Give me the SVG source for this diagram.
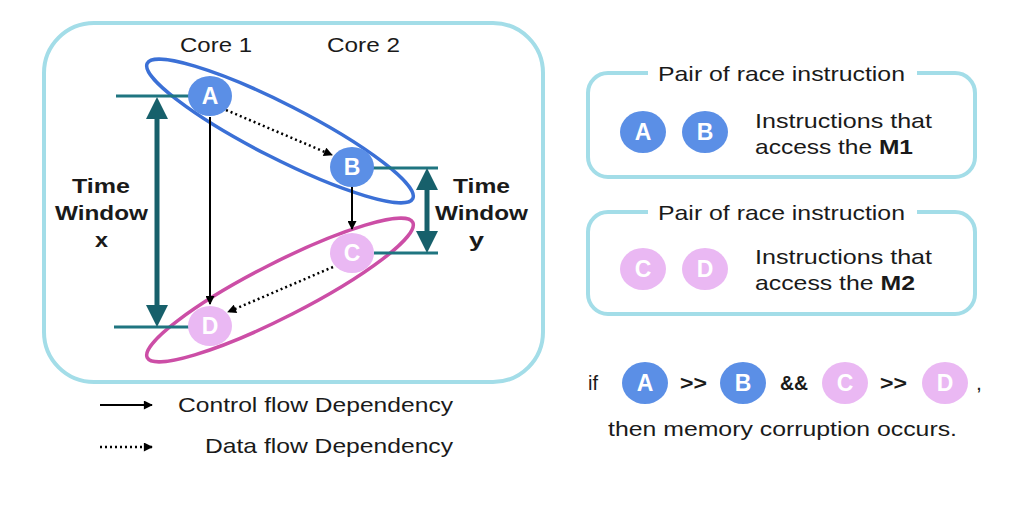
<svg xmlns="http://www.w3.org/2000/svg" width="1026" height="510" viewBox="0 0 1026 510">
<defs>
<style>
.t{font-family:"Liberation Sans",Arial,sans-serif;font-size:21px;fill:#1a1a1a}
.b{font-weight:bold}
.nl{font-family:"Liberation Sans",Arial,sans-serif;font-size:23px;font-weight:bold;fill:#ffffff;text-anchor:middle}
.frame{fill:none;stroke:#a3dde8;stroke-width:4}
.nb{fill:#5b8fe6}
.np{fill:#eab8f3}
.tw{stroke:#1f7580;stroke-width:3;fill:none}
.twa{stroke:#17606b;stroke-width:5;fill:none}
.dep{stroke:#000;stroke-width:2;fill:none}
.dot{stroke:#000;stroke-width:2.5;fill:none;stroke-dasharray:2 3}
</style>
<marker id="ah" viewBox="0 0 10 10" refX="9" refY="5" markerWidth="10" markerHeight="9" markerUnits="userSpaceOnUse" orient="auto"><path d="M0,0 L10,5 L0,10 z" fill="#000"/></marker>
<marker id="tah" viewBox="0 0 10 10" refX="7.3" refY="5" markerWidth="22" markerHeight="22" markerUnits="userSpaceOnUse" orient="auto"><path d="M0,0 L10,5 L0,10 z" fill="#17606b"/></marker>
<marker id="tas" viewBox="0 0 10 10" refX="2.7" refY="5" markerWidth="22" markerHeight="22" markerUnits="userSpaceOnUse" orient="auto"><path d="M10,0 L0,5 L10,10 z" fill="#17606b"/></marker>
</defs>
<rect width="1026" height="510" fill="#ffffff"/>

<g id="main-frame">
<rect class="frame" x="44" y="23" width="499" height="359" rx="50"/>
<text class="t" x="180" y="52" textLength="72" lengthAdjust="spacingAndGlyphs">Core 1</text>
<text class="t" x="327" y="52" textLength="73" lengthAdjust="spacingAndGlyphs">Core 2</text>
</g>

<g id="pair-m1-ellipse"><ellipse cx="280" cy="131" rx="149" ry="27" transform="rotate(27 280 131)" fill="none" stroke="#3b70d6" stroke-width="3.5"/></g>
<g id="pair-m2-ellipse"><ellipse cx="280" cy="290" rx="149" ry="27" transform="rotate(-27 280 290)" fill="none" stroke="#cc4ea6" stroke-width="3.5"/></g>

<g id="time-window-x">
<line class="tw" x1="116" y1="96" x2="190" y2="96"/>
<line class="tw" x1="114" y1="327" x2="190" y2="327"/>
<line class="twa" x1="157" y1="103" x2="157" y2="321" marker-start="url(#tas)" marker-end="url(#tah)"/>
<text class="t b" x="72" y="193" textLength="58" lengthAdjust="spacingAndGlyphs">Time</text>
<text class="t b" x="55" y="220" textLength="93" lengthAdjust="spacingAndGlyphs">Window</text>
<text class="t b" x="95" y="247" textLength="13" lengthAdjust="spacingAndGlyphs">x</text>
</g>

<g id="time-window-y">
<line class="tw" x1="372" y1="168" x2="438" y2="168"/>
<line class="tw" x1="374" y1="253" x2="438" y2="253"/>
<line class="twa" x1="427" y1="174" x2="427" y2="247" marker-start="url(#tas)" marker-end="url(#tah)"/>
<text class="t b" x="453" y="193" textLength="57" lengthAdjust="spacingAndGlyphs">Time</text>
<text class="t b" x="435" y="220" textLength="93" lengthAdjust="spacingAndGlyphs">Window</text>
<text class="t b" x="469" y="247" textLength="15" lengthAdjust="spacingAndGlyphs">y</text>
</g>

<g id="connectors">
<line class="dep" x1="210" y1="117" x2="210" y2="304" marker-end="url(#ah)"/>
<line class="dep" x1="352" y1="187" x2="352" y2="229" marker-end="url(#ah)"/>
<line class="dot" x1="226" y1="110" x2="332" y2="155" marker-end="url(#ah)"/>
<line class="dot" x1="333" y1="267" x2="228" y2="312" marker-end="url(#ah)"/>
</g>

<g id="node-A"><ellipse class="nb" cx="210" cy="96" rx="22" ry="20"/><text class="nl" x="210" y="104">A</text></g>
<g id="node-B"><ellipse class="nb" cx="352" cy="167" rx="22" ry="20"/><text class="nl" x="352" y="175">B</text></g>
<g id="node-C"><ellipse class="np" cx="352" cy="253" rx="22" ry="20"/><text class="nl" x="352" y="261">C</text></g>
<g id="node-D"><ellipse class="np" cx="210" cy="326" rx="22" ry="20"/><text class="nl" x="210" y="334">D</text></g>

<g id="legend">
<line class="dep" x1="100" y1="405" x2="152" y2="405" marker-end="url(#ah)"/>
<text class="t" x="178" y="412" textLength="275" lengthAdjust="spacingAndGlyphs">Control flow Dependency</text>
<line class="dot" x1="100" y1="447" x2="152" y2="447" marker-end="url(#ah)"/>
<text class="t" x="205" y="453" textLength="248" lengthAdjust="spacingAndGlyphs">Data flow Dependency</text>
</g>

<g id="box-m1">
<path class="frame" d="M917,73 H955 A20,20 0 0 1 975,93 V157 A20,20 0 0 1 955,177 H608 A20,20 0 0 1 588,157 V93 A20,20 0 0 1 608,73 H648"/>
<text class="t" x="658" y="81" textLength="247" lengthAdjust="spacingAndGlyphs">Pair of race instruction</text>
<ellipse class="nb" cx="643" cy="132" rx="23" ry="21"/><text class="nl" x="643" y="140">A</text>
<ellipse class="nb" cx="705" cy="132" rx="23" ry="21"/><text class="nl" x="705" y="140">B</text>
<text class="t" x="755" y="128" textLength="177" lengthAdjust="spacingAndGlyphs">Instructions that</text>
<text class="t" x="755" y="154" textLength="158" lengthAdjust="spacingAndGlyphs">access the <tspan class="b">M1</tspan></text>
</g>

<g id="box-m2">
<path class="frame" d="M917,212 H955 A20,20 0 0 1 975,232 V294 A20,20 0 0 1 955,314 H608 A20,20 0 0 1 588,294 V232 A20,20 0 0 1 608,212 H648"/>
<text class="t" x="658" y="220" textLength="247" lengthAdjust="spacingAndGlyphs">Pair of race instruction</text>
<ellipse class="np" cx="643" cy="269" rx="23" ry="21"/><text class="nl" x="643" y="277">C</text>
<ellipse class="np" cx="705" cy="269" rx="23" ry="21"/><text class="nl" x="705" y="277">D</text>
<text class="t" x="755" y="264" textLength="177" lengthAdjust="spacingAndGlyphs">Instructions that</text>
<text class="t" x="755" y="290" textLength="160" lengthAdjust="spacingAndGlyphs">access the <tspan class="b">M2</tspan></text>
</g>

<g id="condition">
<text class="t" x="588" y="390" textLength="10" lengthAdjust="spacingAndGlyphs">if</text>
<ellipse class="nb" cx="645" cy="383" rx="23" ry="21"/><text class="nl" x="645" y="391">A</text>
<text class="t b" x="680" y="390" textLength="27" lengthAdjust="spacingAndGlyphs">&gt;&gt;</text>
<ellipse class="nb" cx="743" cy="383" rx="23" ry="21"/><text class="nl" x="743" y="391">B</text>
<text class="t b" x="780" y="390" textLength="28" lengthAdjust="spacingAndGlyphs">&amp;&amp;</text>
<ellipse class="np" cx="845" cy="383" rx="23" ry="21"/><text class="nl" x="845" y="391">C</text>
<text class="t b" x="880" y="390" textLength="27" lengthAdjust="spacingAndGlyphs">&gt;&gt;</text>
<ellipse class="np" cx="945" cy="383" rx="23" ry="21"/><text class="nl" x="945" y="391">D</text>
<text class="t" x="976" y="390">,</text>
<text class="t" x="608" y="436" textLength="349" lengthAdjust="spacingAndGlyphs">then memory corruption occurs.</text>
</g>
</svg>
